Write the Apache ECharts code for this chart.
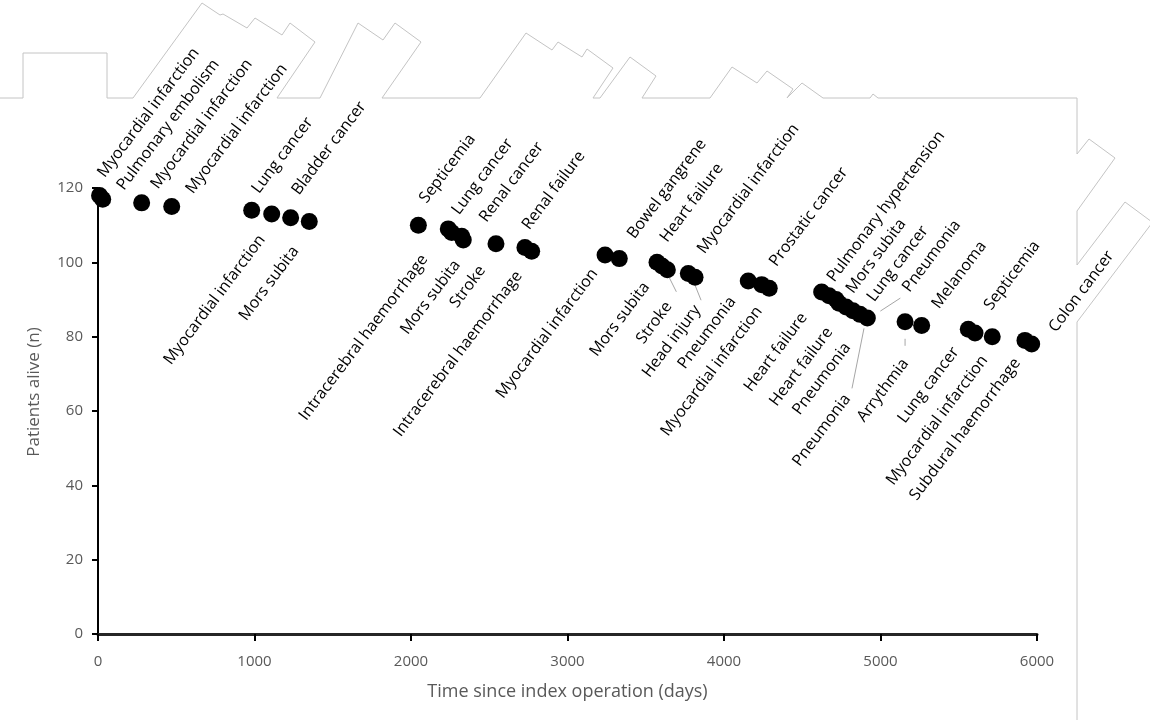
<!DOCTYPE html>
<html>
<head>
<meta charset="utf-8">
<script src="https://cdn.jsdelivr.net/npm/echarts@6/dist/echarts.min.js"></script>
<style>
html, body { margin: 0; background: #fff; }
#chart { width: 1150px; height: 720px; }
</style>
</head>
<body>
<div id="chart"></div>
<script>
// deaths: day of death and patients still alive afterwards
const days = [10, 30, 279, 471, 982, 1110, 1231, 1350, 2047, 2238, 2260, 2324, 2334, 2543, 2728, 2771,
    3240, 3331, 3572, 3604, 3638, 3772, 3815, 4155, 4241, 4289, 4624, 4671, 4716, 4735, 4780, 4824,
    4869, 4916, 5157, 5263, 5561, 5604, 5714, 5923, 5966]
const alive = [118, 117, 116, 115, 114, 113, 112, 111, 110, 109, 108, 107, 106, 105, 104, 103,
    102, 101, 100, 99, 98, 97, 96, 95, 94, 93, 92, 91, 90, 89, 88, 87,
    86, 85, 84, 83, 82, 81, 80, 79, 78]
const causes = ['Myocardial infarction', 'Pulmonary embolism', 'Myocardial infarction', 'Myocardial infarction',
    'Lung cancer', 'Myocardial infarction', 'Bladder cancer', 'Mors subita',
    'Septicemia', 'Intracerebral haemorrhage', 'Lung cancer', 'Mors subita', 'Renal cancer', 'Stroke',
    'Renal failure', 'Intracerebral haemorrhage',
    'Myocardial infarction', 'Bowel gangrene', 'Mors subita', 'Heart failure', 'Stroke',
    'Myocardial infarction', 'Head injury', 'Pneumonia', 'Myocardial infarction', 'Prostatic cancer',
    'Heart failure', 'Pulmonary hypertension', 'Heart failure', 'Mors subita', 'Pneumonia', 'Lung cancer',
    'Pneumonia', 'Pneumonia', 'Arrythmia', 'Melanoma', 'Lung cancer', 'Septicemia',
    'Myocardial infarction', 'Subdural haemorrhage', 'Colon cancer']
const xTicks = [0, 1000, 2000, 3000, 4000, 5000, 6000]
const yTicks = [0, 20, 40, 60, 80, 100, 120]

// label layout: pixel shift of the label anchor from the dot centre (dy < 0 -> label above)
const labelShift = [
    [-1, -20], [15, -11], [10, -16], [15, -15], [1, -19], [-7, 21], [2, -25], [-11, 25],
    [2, -24], [-21, 26], [1, -20], [-2, 24], [17, -20], [-11, 22], [-2, -20], [-10, 20],
    [-8, 14], [9, -22], [-8, 20], [-1, -26], [4, 32], [10, -22], [5, 28], [-13, 16], [0, 22], [1, -24],
    [-15, 21], [-1, -16], [-4, 28], [8, -12], [4, 36], [15, -11], [-10, 80], [36, -28],
    [3, 37], [11, -19], [-10, 18], [10, -25], [-5, 19], [-5, 18], [18, -14]
]
// leader lines: [point index, x1, y1, x2, y2] offsets from the dot centre
const leaders = [[20, 2, 8, 9, 22], [22, 0, 8, 6, 23], [32, 4, 14, -8, 74], [33, 13, -7, 33, -20], [34, 0, 17, 0, 24]]

const FONT = 'Open Sans'
const DOT = 17
const ANGLE = 53
// text box padding correction (glyph corner vs. line box corner)
const FIX_UP = [9, 5]
const FIX_DOWN = [-9, -3]

const chart = echarts.init(document.getElementById('chart'))

chart.setOption({
    animation: false,
    backgroundColor: '#fff',
    textStyle: { fontFamily: FONT },
    grid: { left: 98, right: 113, top: 188, bottom: 86 },
    xAxis: {
        type: 'value',
        min: xTicks[0],
        max: xTicks[xTicks.length - 1],
        interval: xTicks[1] - xTicks[0],
        name: 'Time since index operation (days)',
        nameLocation: 'middle',
        nameGap: 49,
        nameTextStyle: { color: '#595959', fontSize: 18, fontFamily: FONT },
        axisLine: { onZero: false, lineStyle: { color: '#262626', width: 3 } },
        axisTick: { length: 7, lineStyle: { color: '#000', width: 2 } },
        axisLabel: { color: '#595959', fontSize: 15, margin: 20, fontFamily: FONT, formatter: v => String(v) },
        splitLine: { show: false }
    },
    yAxis: {
        type: 'value',
        min: yTicks[0],
        max: yTicks[yTicks.length - 1],
        interval: yTicks[1] - yTicks[0],
        name: 'Patients alive (n)',
        nameLocation: 'middle',
        nameGap: 55,
        nameTextStyle: { color: '#595959', fontSize: 17, fontFamily: FONT, padding: [0, 0, 0, 38] },
        axisLine: { onZero: false, lineStyle: { color: '#000', width: 2 } },
        axisTick: { length: 6, lineStyle: { color: '#000', width: 2 } },
        axisLabel: { color: '#595959', fontSize: 15, margin: 15, fontFamily: FONT },
        splitLine: { show: false }
    },
    series: [
        {
            type: 'custom',
            silent: true,
            z: 1,
            data: leaders.map(l => [days[l[0]], alive[l[0]]]),
            renderItem: function (params, api) {
                const p = api.coord([api.value(0), api.value(1)])
                const l = leaders[params.dataIndex]
                return {
                    type: 'line',
                    shape: { x1: p[0] + l[1], y1: p[1] + l[2], x2: p[0] + l[3], y2: p[1] + l[4] },
                    style: { stroke: '#a6a6a6', lineWidth: 1 }
                }
            }
        },
        {
            type: 'scatter',
            symbol: 'circle',
            symbolSize: DOT,
            z: 3,
            itemStyle: { color: '#000', opacity: 1 },
            label: {
                show: true,
                formatter: '{b}',
                rotate: ANGLE,
                color: '#000',
                fontSize: 16,
                fontFamily: FONT
            },
            data: days.map((d, i) => {
                const s = labelShift[i]
                const up = s[1] < 0
                const f = up ? FIX_UP : FIX_DOWN
                return {
                    name: causes[i],
                    value: [d, alive[i]],
                    label: {
                        position: [DOT / 2 + s[0] + f[0], DOT / 2 + s[1] + f[1]],
                        align: up ? 'left' : 'right',
                        verticalAlign: up ? 'bottom' : 'top'
                    }
                }
            })
        }
    ],
    // faint outline remnant along the top and right edges of the figure
    graphic: [
        {
            type: 'polyline',
            silent: true,
            shape: {
                points: [[0, 98], [23, 98], [23, 53], [107, 53], [107, 98], [133, 98], [202, 3], [220, 15],
                    [223, 14], [247, 28], [255, 18], [282, 35], [290, 23], [315, 42], [277, 98], [320, 98],
                    [358, 23], [383, 40], [395, 23], [421, 42], [382, 98], [480, 98], [526, 33], [552, 50],
                    [558, 42], [582, 57], [587, 49], [613, 68], [593, 98], [600, 98], [630, 57], [656, 76],
                    [642, 98], [710, 98], [732, 67], [757, 83], [767, 71], [793, 89], [787, 98], [802, 83],
                    [823, 98], [870, 98], [873, 94], [878, 98], [1077, 98], [1077, 154], [1089, 139],
                    [1115, 158], [1077, 211], [1077, 265], [1125, 202], [1152, 222]]
            },
            style: { stroke: '#c4c4c4', fill: null, lineWidth: 1 }
        },
        {
            type: 'polyline',
            silent: true,
            shape: { points: [[1152, 223], [1077, 322], [1077, 722]] },
            style: { stroke: '#c4c4c4', fill: null, lineWidth: 1 }
        }
    ]
})

window.addEventListener('resize', chart.resize)
</script>
</body>
</html>
